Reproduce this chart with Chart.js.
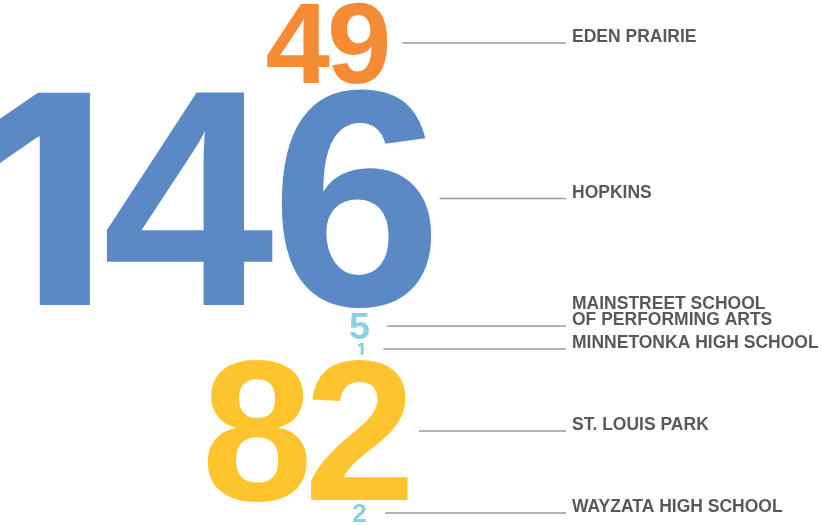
<!DOCTYPE html>
<html>
<head>
<meta charset="utf-8">
<style>
  html, body { margin: 0; padding: 0; background: #fff; }
  #wrap { width: 822px; height: 525px; position: relative; }
</style>
<script src="https://cdn.jsdelivr.net/npm/chart.js@4.4.1/dist/chart.umd.min.js"></script>
</head>
<body>
<div id="wrap"><canvas id="schoolsChart"></canvas></div>
<script>
const schools = ['EDEN PRAIRIE', 'HOPKINS', ['MAINSTREET SCHOOL', 'OF PERFORMING ARTS'], 'MINNETONKA HIGH SCHOOL', 'ST. LOUIS PARK', 'WAYZATA HIGH SCHOOL'];
const students = [49, 146, 5, 1, 82, 2];

const numberColors = ['#f58c35', '#5b89c6', '#8ad1df', '#8ad1df', '#fec42e', '#8ad1df'];
// digit height of each number and the space under it, in y-axis units (axis runs 0..525)
const digitHeights = [80, 213, 26, 12, 138, 18];
const gapsBelow = [9, 8, 4, 7, 4, 0];
const topPad = 3;
const labelLineHeight = 16;

// numbers stack top to bottom; leader line at the middle of each one
const centers = [];
let cursor = topPad;
digitHeights.forEach((h, i) => {
  centers.push(cursor + h / 2);
  cursor += h + gapsBelow[i];
});

// Liberation's "1" has a foot, so that one digit comes from Inter
const digitFamily = ch => ch === '1' ? '800 {s}px Inter, sans-serif' : 'bold {s}px "Liberation Sans", Arial, sans-serif';

const bigNumbers = {
  id: 'bigNumbers',
  afterDatasetsDraw(chart) {
    const { ctx, chartArea, scales: { y } } = chart;
    const meta = chart.getDatasetMeta(0);
    const unit = Math.abs(y.getPixelForValue(1) - y.getPixelForValue(0));
    ctx.save();
    ctx.textAlign = 'left';
    ctx.textBaseline = 'alphabetic';
    const capOf = ch => {
      ctx.font = digitFamily(ch).replace('{s}', 100);
      return ctx.measureText('1').actualBoundingBoxAscent / 100;
    };
    meta.data.forEach((pt, i) => {
      const h = digitHeights[i] * unit;
      const baseline = pt.y + h / 2;
      const right = pt.x + 0.35 * h;
      const glyphs = String(students[i]).split('').map(ch => {
        const font = digitFamily(ch).replace('{s}', (h / capOf(ch)).toFixed(1));
        ctx.font = font;
        const m = ctx.measureText(ch);
        return { ch, font, left: m.actualBoundingBoxLeft, width: m.actualBoundingBoxLeft + m.actualBoundingBoxRight, gap: (ch === '1' ? 0.05 : 0.02) * h };
      });
      let total = 0;
      glyphs.forEach((g, k) => { total += g.width + (k < glyphs.length - 1 ? g.gap : 0); });
      let x = right - total;
      ctx.fillStyle = numberColors[i];
      glyphs.forEach(g => {
        ctx.font = g.font;
        ctx.fillText(g.ch, x + g.left, baseline);
        x += g.width + g.gap;
      });

      const start = right + 20 - 0.07 * h;
      ctx.strokeStyle = '#9b9b9b';
      ctx.lineWidth = 1.3;
      ctx.beginPath();
      ctx.moveTo(start, pt.y);
      ctx.lineTo(chartArea.right, pt.y);
      ctx.stroke();
    });
    ctx.restore();
  }
};

const ctx = document.getElementById('schoolsChart').getContext('2d');
new Chart(ctx, {
  type: 'scatter',
  data: {
    datasets: [{
      data: students.map((v, i) => ({ x: 0, y: centers[i] })),
      pointRadius: 0,
      pointHoverRadius: 0
    }]
  },
  options: {
    responsive: true,
    maintainAspectRatio: false,
    animation: false,
    events: [],
    layout: { padding: 0 },
    plugins: { legend: { display: false }, tooltip: { enabled: false } },
    scales: {
      x: { type: 'linear', display: false, min: -360, max: 206 },
      y: {
        type: 'linear',
        position: 'right',
        reverse: true,
        min: 0,
        max: 525,
        grid: { display: false, drawTicks: false },
        border: { display: false },
        afterBuildTicks: axis => {
          // put each label's last baseline on its leader line
          axis.ticks = centers.map((c, i) => {
            const lines = Array.isArray(schools[i]) ? schools[i].length : 1;
            return { value: c + 0.5 - 6 - (lines - 1) * labelLineHeight / 2 };
          });
        },
        afterFit: axis => {
          axis.width = 256;
          axis.paddingTop = 0;
          axis.paddingBottom = 0;
        },
        ticks: {
          autoSkip: false,
          padding: 6,
          color: '#58595b',
          font: { family: '"Liberation Sans", Arial, sans-serif', size: 17.5, weight: 'bold', lineHeight: labelLineHeight / 17.5 },
          callback: (value, index) => schools[index]
        }
      }
    }
  },
  plugins: [bigNumbers]
});
</script>
</body>
</html>
